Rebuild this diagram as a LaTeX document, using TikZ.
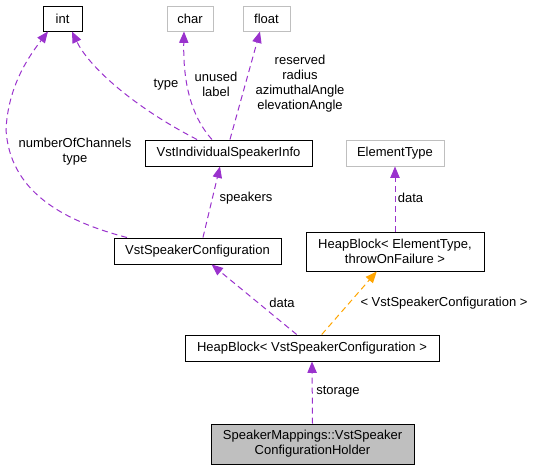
\documentclass[tikz,border=0pt]{standalone}
\usepackage{fontspec}
\setmainfont{Liberation Sans}
\usetikzlibrary{arrows.meta}
\definecolor{edgepurple}{HTML}{9A32CD}
\definecolor{edgeorange}{HTML}{FFA500}
\definecolor{boxgray}{HTML}{BFBFBF}
\begin{document}
\begin{tikzpicture}[x=0.75pt,y=-0.75pt,
		every node/.style={font=\fontsize{9.75}{11.25}\selectfont,inner sep=0pt},
		cls/.style={draw=black,line width=0.75pt,fill=white,align=center},
		ext/.style={draw=boxgray,line width=0.75pt,fill=white,align=center},
		rel/.style={edgepurple,line width=0.75pt,dash pattern=on 4.5pt off 3pt,-{Triangle[length=8.5pt,width=7pt]}},
		tmpl/.style={rel,edgeorange},
		lbl/.style={align=center}]
		\useasboundingbox (0,0) rectangle (535,471);
		\coordinate (I) at (62.5,18.5);
		\coordinate (C) at (190,18.5);
		\coordinate (F) at (266.5,18.5);
		\coordinate (S) at (228.5,153);
		\coordinate (E) at (395,153);
		\coordinate (K) at (197.5,251);
		\coordinate (H) at (395,251.5);
		\coordinate (H1) at (312,348);
		\coordinate (M) at (312.5,444);
		\node [cls,minimum width=29.25pt,minimum height=18.75pt] (int) at (I) {int};
		\node [ext,minimum width=34.5pt,minimum height=18.75pt] (char) at (C) {char};
		\node [ext,minimum width=35.25pt,minimum height=18.75pt] (float) at (F) {float};
		\node [cls,minimum width=125.25pt,minimum height=19.5pt] (info) at (S) {VstIndividualSpeakerInfo};
		\node [ext,minimum width=73.5pt,minimum height=19.5pt] (elem) at (E) {ElementType};
		\node [cls,minimum width=125.25pt,minimum height=19.5pt] (config) at (K) {VstSpeakerConfiguration};
		\node [cls,minimum width=133.5pt,minimum height=29.25pt] (heap) at (H) {HeapBlock\textless{} ElementType,\\ throwOnFailure \textgreater};
		\node [cls,minimum width=190.5pt,minimum height=19.5pt] (heapcfg) at (H1) {HeapBlock\textless{} VstSpeakerConfiguration \textgreater};
		\node [cls,fill=boxgray,minimum width=152.25pt,minimum height=30pt] (holder) at (M) {SpeakerMappings::VstSpeaker\\ConfigurationHolder};
		\draw [rel] (holder.north) to (heapcfg.south);
		\draw [rel] ([xshift=-11.5pt]heapcfg.north) to ([xshift=10.6pt]config.south);
		\draw [tmpl] ([xshift=7.3pt]heapcfg.north) to ([xshift=-13.7pt]heap.south);
		\draw [rel] (heap.north) to (elem.south);
		\draw [rel] ([xshift=4.1pt]config.north) to ([xshift=-6.4pt]info.south);
		\draw [rel] ([xshift=-52.9pt]config.north) .. controls (60,220) and (10,190) .. (6,130) .. controls (8,85) and (30,55) .. ([xshift=-10.9pt]int.south);
		\draw [rel] ([xshift=-23.6pt]info.north) .. controls (130,105) and (88,65) .. ([xshift=7.1pt]int.south);
		\draw [rel] ([xshift=-12.4pt]info.north) .. controls (190,115) and (183,80) .. ([xshift=-4.5pt]char.south);
		\draw [rel] ([xshift=1.1pt]info.north) to ([xshift=-4.9pt]float.south);
		\node [lbl,anchor=west] (lstorage) at (316,392) {storage};
		\node [lbl] (ldata) at (282,303) {data};
		\node [lbl] (ltmpl) at (444,303) {\textless{} VstSpeakerConfiguration \textgreater};
		\node [lbl] (lelem) at (410.5,198) {data};
		\node [lbl] (lspk) at (246,198) {speakers};
		\node [lbl] (lnum) at (75,152) {numberOfChannels\\type};
		\node [lbl] (ltype) at (166,85) {type};
		\node [lbl] (lunused) at (216,84) {unused\\label};
		\node [lbl] (lfloat) at (300,84) {reserved\\radius\\azimuthalAngle\\elevationAngle};
	\end{tikzpicture}
\end{document}
